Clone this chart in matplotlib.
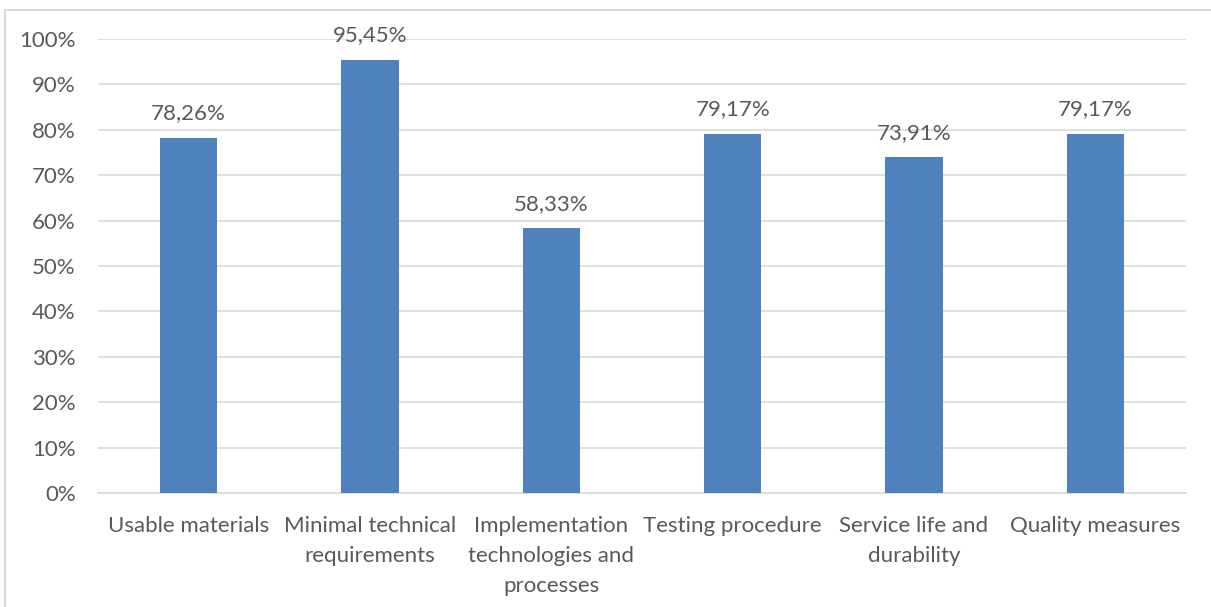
import matplotlib
matplotlib.use("Agg")
import matplotlib.pyplot as plt
from matplotlib.patches import Rectangle
from matplotlib.ticker import MultipleLocator, FuncFormatter

categories = [
    "Usable materials",
    "Minimal technical\nrequirements",
    "Implementation\ntechnologies and\nprocesses",
    "Testing procedure",
    "Service life and\ndurability",
    "Quality measures",
]
values = [78.26, 95.45, 58.33, 79.17, 73.91, 79.17]

bar_color = "#4F81BD"
text_color = "#595959"
grid_color = "#D9D9D9"

plt.rcParams["font.family"] = ["Lato", "DejaVu Sans"]

fig = plt.figure(figsize=(12.11, 6.07), dpi=100)
ax = fig.add_axes([98 / 1211, 1 - 493 / 607, (1186 - 98) / 1211, (493 - 39) / 607])

x = list(range(len(categories)))
bars = ax.bar(x, values, width=0.315, color=bar_color, zorder=3)

for xi, v in zip(x, values):
    ax.annotate(f"{v:.2f}%".replace(".", ","), (xi, v), xytext=(0, 10.5),
                textcoords="offset points", ha="center", va="bottom",
                fontsize=16, color=text_color)

ax.set_xlim(-0.5, len(categories) - 0.5)
ax.set_ylim(0, 100)
ax.yaxis.set_major_locator(MultipleLocator(10))
ax.yaxis.set_major_formatter(FuncFormatter(lambda v, p: f"{v:.0f}%"))
ax.grid(axis="y", color=grid_color, linewidth=1.2, zorder=0)
ax.set_xticks(x)
ax.set_xticklabels(categories, fontsize=16, color=text_color, linespacing=1.62)
ax.tick_params(axis="y", labelsize=16, labelcolor=text_color, length=0, pad=16)
ax.tick_params(axis="x", length=0, pad=16.5)
for side in ["top", "right", "left"]:
    ax.spines[side].set_visible(False)
ax.spines["bottom"].set_color(grid_color)
ax.spines["bottom"].set_linewidth(1.2)

fig.patches.append(Rectangle((5 / 1211, -0.1), 1.2, 1 - 10 / 607 + 0.1,
                             transform=fig.transFigure, fill=False,
                             edgecolor="#D9D9D9", linewidth=1.5))

fig.savefig("out.png", dpi=100)
